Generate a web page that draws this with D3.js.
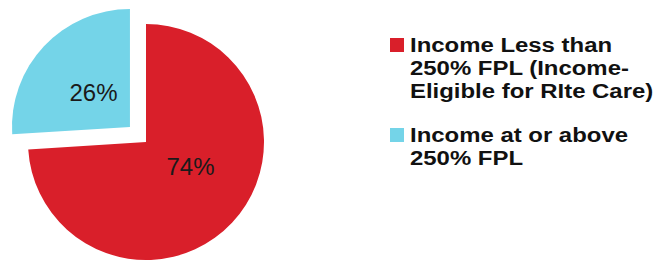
<!DOCTYPE html>
<html lang="en">

<head>
    <meta charset="UTF-8">
    <script src="https://d3js.org/d3.v7.min.js"></script>
    <title>Income</title>
    <style>
        body {
            margin: 0;
            background: #fff;
        }
    </style>
</head>

<body>
    <div id="app"></div>
    <script>
        const svg_width = 661;
        const svg_height = 261;

        // data
        var categories = ['Income Less than 250% FPL (Income-Eligible for RIte Care)', 'Income at or above 250% FPL']
        var values = [74, 26]
        var legend_lines = [
            ['Income Less than', '250% FPL (Income-', 'Eligible for RIte Care)'],
            ['Income at or above', '250% FPL']
        ]
        var colors = ['#d91f2a', '#74d4e8']

        const cx = 146;
        const cy = 142;
        const radius = 118;
        const explode = 22;

        var svg = d3.select('#app')
            .append('svg')
            .attr('width', svg_width)
            .attr('height', svg_height)

        var pie = d3.pie().sort(null)
        var arcs = pie(values)

        var arc = d3.arc().innerRadius(0).outerRadius(radius)
        var label_arc = d3.arc().innerRadius(50).outerRadius(50)

        function offset(d, i) {
            // only the small slice is pulled out
            if (i === 0) return [0, 0]
            var mid = (d.startAngle + d.endAngle) / 2
            return [Math.sin(mid) * explode, -Math.cos(mid) * explode]
        }

        var slices = svg.append('g')
            .attr('transform', 'translate(' + cx + ',' + cy + ')')
            .selectAll('g')
            .data(arcs)
            .enter()
            .append('g')
            .attr('transform', function (d, i) {
                var o = offset(d, i)
                return 'translate(' + o[0] + ',' + o[1] + ')'
            })

        slices.append('path')
            .attr('d', arc)
            .attr('fill', function (d, i) {
                return colors[i]
            })

        slices.append('text')
            .attr('transform', function (d, i) {
                var c = label_arc.centroid(d)
                // nudge the big slice label up a bit
                if (i === 0) c = [c[0] + 8, c[1] - 10]
                return 'translate(' + c[0] + ',' + c[1] + ')'
            })
            .attr('text-anchor', 'middle')
            .attr('dy', '0.36em')
            .style('font-family', 'Liberation Sans, Arial, sans-serif')
            .style('font-size', '24px')
            .attr('fill', '#1a1a1a')
            .text(function (d) {
                return d.data + '%'
            })

        // legend
        var legend_y = [38, 128]
        var legend = svg.append('g')
            .selectAll('g')
            .data(categories)
            .enter()
            .append('g')
            .attr('transform', function (d, i) {
                return 'translate(390,' + legend_y[i] + ')'
            })

        legend.append('rect')
            .attr('width', 14)
            .attr('height', 14)
            .attr('fill', function (d, i) {
                return colors[i]
            })

        legend.append('g')
            .attr('transform', 'translate(20,14) scale(1.14,1)')
            .selectAll('text')
            .data(function (d, i) {
                return legend_lines[i]
            })
            .enter()
            .append('text')
            .attr('y', function (d, j) {
                return j * 23
            })
            .style('font-family', 'Liberation Sans, Arial, sans-serif')
            .style('font-size', '21px')
            .style('font-weight', 'bold')
            .attr('fill', '#111')
            .text(function (d) {
                return d
            })
    </script>
</body>

</html>
